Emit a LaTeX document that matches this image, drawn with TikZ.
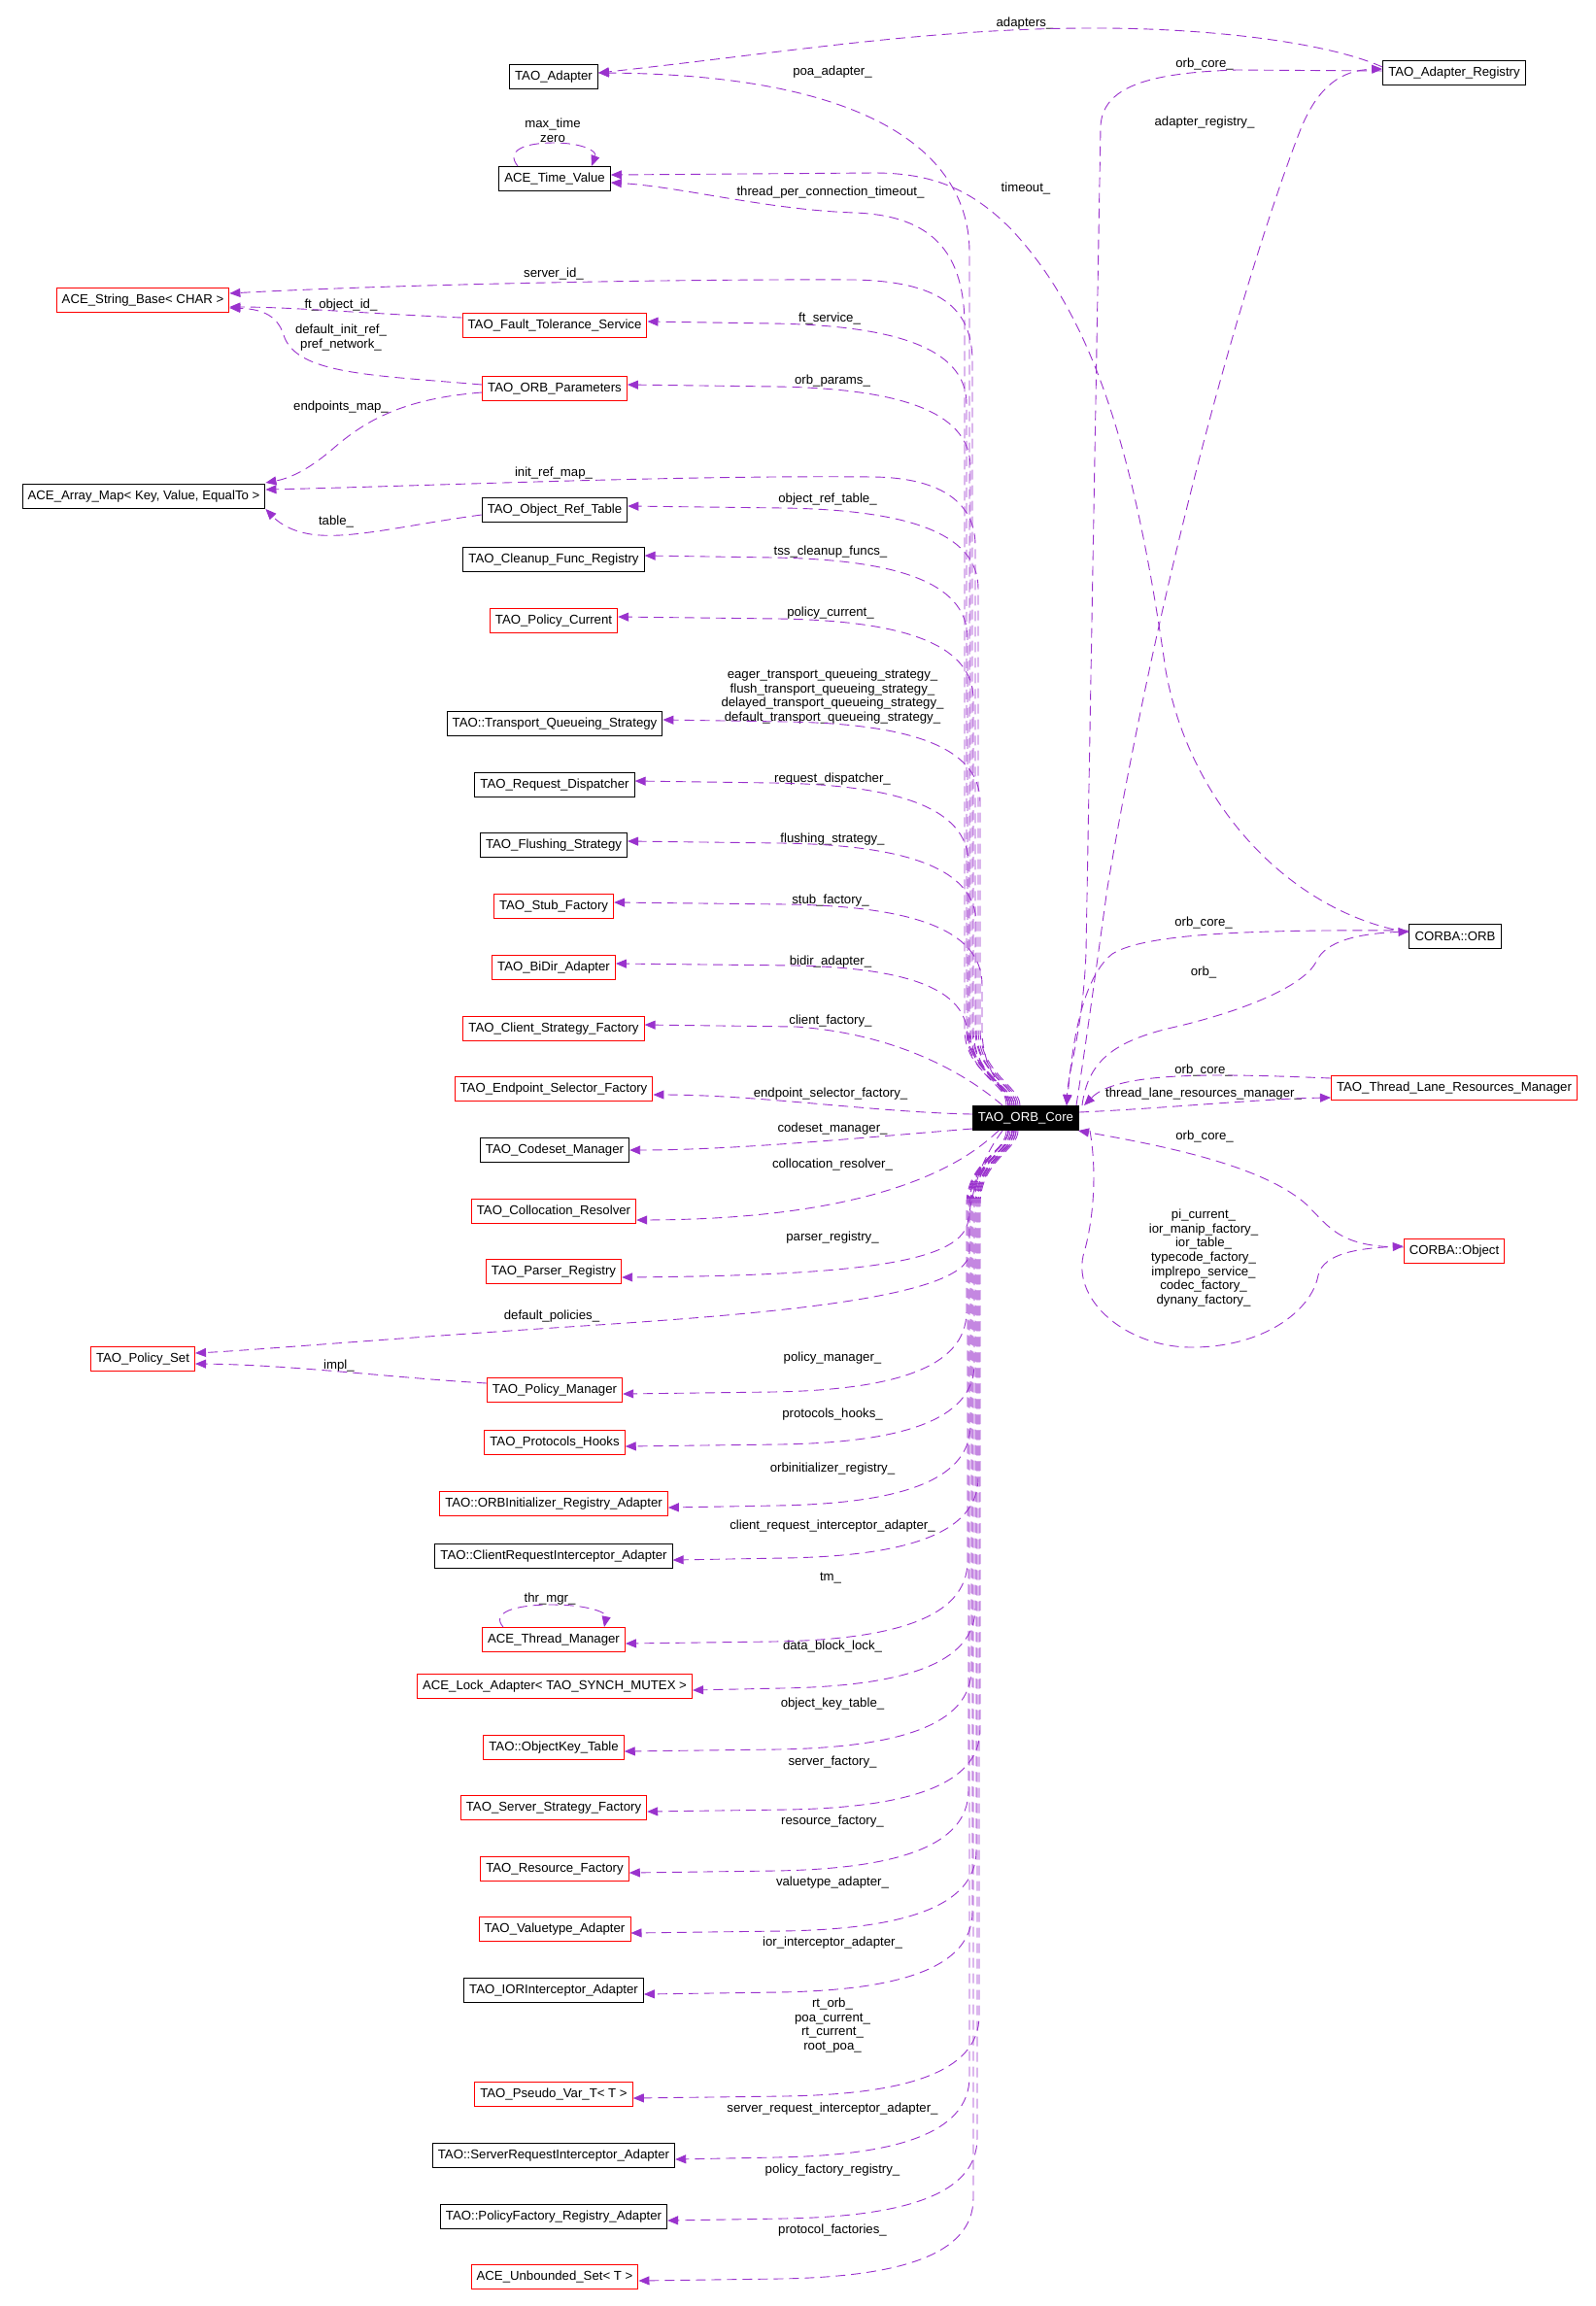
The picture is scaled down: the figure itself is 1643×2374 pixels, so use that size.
\documentclass[tikz,border=0pt]{standalone}
\usepackage{fontspec}
\setmainfont{Liberation Sans}
\usetikzlibrary{arrows.meta}
\definecolor{edgec}{HTML}{9A32CD}
\definecolor{boxred}{HTML}{FF0000}
\newcommand\UpEdge[4]{\draw[edge] ([xshift=#4]core.north) .. controls +(0,-20) and (#3,1105) .. (#3,1060) -- (#3,{#2+85}) .. controls (#3,{#2+25}) and ({#3-80},{#2+4}) .. ({#3-200},{#2+2}) -- ([yshift=2pt]#1.east);}
\newcommand\LoEdge[4]{\draw[edge] ([xshift=#4]core.south) .. controls +(0,20) and (#3,1195) .. (#3,1240) -- (#3,{#2-85}) .. controls (#3,{#2-25}) and ({#3-80},{#2-4}) .. ({#3-200},{#2-2}) -- ([yshift=-2pt]#1.east);}
\begin{document}
\begin{tikzpicture}[x=0.5pt,y=-0.5pt,
  every node/.style={font=\fontsize{6.6}{7.35}\selectfont},
  box/.style={draw=black, line width=0.5pt, fill=white, inner xsep=2.8pt, inner ysep=0pt, minimum height=12.5pt},
  rbox/.style={box, draw=boxred},
  corebox/.style={box, fill=black, text=white},
  lab/.style={align=center, inner sep=0pt},
  edge/.style={draw=edgec, line width=0.45pt, dash pattern=on 5pt off 3pt, -{Triangle[length=5.5pt,width=4.5pt]}}]
\fill[white] (0,0) rectangle (1643,2374);
\useasboundingbox (0,0) rectangle (1643,2374);

% ---------- nodes ----------
\node[box]  (adapter)  at (570,79)   {TAO\_Adapter};
\node[box]  (timeval)  at (571,184)  {ACE\_Time\_Value};
\node[rbox] (sbase)    at (147,309)  {ACE\_String\_Base< CHAR >};
\node[rbox] (fts)      at (571,335)  {TAO\_Fault\_Tolerance\_Service};
\node[rbox] (oparams)  at (571,400)  {TAO\_ORB\_Parameters};
\node[box]  (amap)     at (148,511)  {ACE\_Array\_Map< Key, Value, EqualTo >};
\node[box]  (ortable)  at (571,525)  {TAO\_Object\_Ref\_Table};
\node[box]  (cleanup)  at (570,576)  {TAO\_Cleanup\_Func\_Registry};
\node[rbox] (pcurrent) at (570,639)  {TAO\_Policy\_Current};
\node[box]  (tqs)      at (571,745)  {TAO::Transport\_Queueing\_Strategy};
\node[box]  (rdisp)    at (571,808)  {TAO\_Request\_Dispatcher};
\node[box]  (flush)    at (570,870)  {TAO\_Flushing\_Strategy};
\node[rbox] (stub)     at (570,933)  {TAO\_Stub\_Factory};
\node[rbox] (bidir)    at (570,996)  {TAO\_BiDir\_Adapter};
\node[rbox] (client)   at (570,1059) {TAO\_Client\_Strategy\_Factory};
\node[rbox] (endpoint) at (570,1121) {TAO\_Endpoint\_Selector\_Factory};
\node[box]  (codeset)  at (571,1184) {TAO\_Codeset\_Manager};
\node[rbox] (colloc)   at (570,1247) {TAO\_Collocation\_Resolver};
\node[rbox] (parser)   at (570,1309) {TAO\_Parser\_Registry};
\node[rbox] (pset)     at (147,1399) {TAO\_Policy\_Set};
\node[rbox] (pmgr)     at (571,1431) {TAO\_Policy\_Manager};
\node[rbox] (phooks)   at (571,1485) {TAO\_Protocols\_Hooks};
\node[rbox] (orbinit)  at (570,1548) {TAO::ORBInitializer\_Registry\_Adapter};
\node[box]  (creq)     at (570,1602) {TAO::ClientRequestInterceptor\_Adapter};
\node[rbox] (tmgr)     at (570,1688) {ACE\_Thread\_Manager};
\node[rbox] (lock)     at (571,1736) {ACE\_Lock\_Adapter< TAO\_SYNCH\_MUTEX >};
\node[rbox] (okey)     at (570,1799) {TAO::ObjectKey\_Table};
\node[rbox] (sstrat)   at (570,1861) {TAO\_Server\_Strategy\_Factory};
\node[rbox] (resf)     at (571,1924) {TAO\_Resource\_Factory};
\node[rbox] (vtype)    at (571,1986) {TAO\_Valuetype\_Adapter};
\node[box]  (ior)      at (570,2049) {TAO\_IORInterceptor\_Adapter};
\node[rbox] (pseudo)   at (570,2156) {TAO\_Pseudo\_Var\_T< T >};
\node[box]  (sreq)     at (570,2219) {TAO::ServerRequestInterceptor\_Adapter};
\node[box]  (pfreg)    at (570,2282) {TAO::PolicyFactory\_Registry\_Adapter};
\node[rbox] (uset)     at (571,2344) {ACE\_Unbounded\_Set< T >};
\node[corebox] (core)  at (1056,1151) {TAO\_ORB\_Core};
\node[box]  (areg)     at (1497,75)  {TAO\_Adapter\_Registry};
\node[box]  (corbaorb) at (1498,964) {CORBA::ORB};
\node[rbox] (tlrm)     at (1497,1120) {TAO\_Thread\_Lane\_Resources\_Manager};
\node[rbox] (cobj)     at (1497,1288) {CORBA::Object};

% ---------- labels ----------
\node[lab] (Ladapters) at (1055,24) {adapters\_};
\node[lab] (Lpoa) at (857,74) {poa\_adapter\_};
\node[lab] (Lregcore) at (1240,66) {orb\_core\_};
\node[lab] (Lareg) at (1240,126) {adapter\_registry\_};
\node[lab] (Lloop1) at (569,134.5) {max\_time\\zero};
\node[lab] (Ltpct) at (855,198) {thread\_per\_connection\_timeout\_};
\node[lab] (Ltimeout) at (1056,194) {timeout\_};
\node[lab] (Lserver) at (570,282) {server\_id\_};
\node[lab] (Lftobj) at (351,314) {ft\_object\_id\_};
\node[lab] (Lftserv) at (854,328) {ft\_service\_};
\node[lab] (Ldefinit) at (351,347.5) {default\_init\_ref\_\\pref\_network\_};
\node[lab] (Lorbparams) at (857,392) {orb\_params\_};
\node[lab] (Lendmap) at (351,419) {endpoints\_map\_};
\node[lab] (Linitref) at (570,487) {init\_ref\_map\_};
\node[lab] (Lortable) at (852,514) {object\_ref\_table\_};
\node[lab] (Ltable) at (346,537) {table\_};
\node[lab] (Ltss) at (855,568) {tss\_cleanup\_funcs\_};
\node[lab] (Lpcur) at (855,631) {policy\_current\_};
\node[lab] (Ltqs) at (857,717) {eager\_transport\_queueing\_strategy\_\\flush\_transport\_queueing\_strategy\_\\delayed\_transport\_queueing\_strategy\_\\default\_transport\_queueing\_strategy\_};
\node[lab] (Lrdisp) at (857,802) {request\_dispatcher\_};
\node[lab] (Lflush) at (857,864) {flushing\_strategy\_};
\node[lab] (Lstub) at (855,927) {stub\_factory\_};
\node[lab] (Lbidir) at (855,990) {bidir\_adapter\_};
\node[lab] (Lclient) at (855,1051) {client\_factory\_};
\node[lab] (Lendp) at (855,1126) {endpoint\_selector\_factory\_};
\node[lab] (Lcodeset) at (857,1162) {codeset\_manager\_};
\node[lab] (Lcolloc) at (857,1199) {collocation\_resolver\_};
\node[lab] (Lparser) at (857,1274) {parser\_registry\_};
\node[lab] (Ldefpol) at (568,1355) {default\_policies\_};
\node[lab] (Lpmgr) at (857,1398) {policy\_manager\_};
\node[lab] (Limpl) at (349,1406) {impl\_};
\node[lab] (Lphooks) at (857,1456) {protocols\_hooks\_};
\node[lab] (Lorbinit) at (857,1512) {orbinitializer\_registry\_};
\node[lab] (Lcreq) at (857,1571) {client\_request\_interceptor\_adapter\_};
\node[lab] (Ltm) at (855,1625) {tm\_};
\node[lab] (Lthr) at (566,1646) {thr\_mgr\_};
\node[lab] (Llock) at (857,1695) {data\_block\_lock\_};
\node[lab] (Lokey) at (857,1754) {object\_key\_table\_};
\node[lab] (Lsstrat) at (857,1814) {server\_factory\_};
\node[lab] (Lresf) at (857,1875) {resource\_factory\_};
\node[lab] (Lvtype) at (857,1938) {valuetype\_adapter\_};
\node[lab] (Lior) at (857,2000) {ior\_interceptor\_adapter\_};
\node[lab] (Lpseudo) at (857,2085) {rt\_orb\_\\poa\_current\_\\rt\_current\_\\root\_poa\_};
\node[lab] (Lsreq) at (857,2171) {server\_request\_interceptor\_adapter\_};
\node[lab] (Lpfreg) at (857,2234) {policy\_factory\_registry\_};
\node[lab] (Luset) at (857,2296) {protocol\_factories\_};
\node[lab] (Lorbcore1) at (1239,950) {orb\_core\_};
\node[lab] (Lorb) at (1239,1001) {orb\_};
\node[lab] (Lorbcore2) at (1239,1102) {orb\_core\_};
\node[lab] (Ltlrm) at (1239,1126) {thread\_lane\_resources\_manager\_};
\node[lab] (Lorbcore3) at (1240,1170) {orb\_core\_};
\node[lab] (Lobj) at (1239,1295) {pi\_current\_\\ior\_manip\_factory\_\\ior\_table\_\\typecode\_factory\_\\implrepo\_service\_\\codec\_factory\_\\dynany\_factory\_};

% ---------- upper-left edges from TAO_ORB_Core ----------
\draw[edge] ([xshift=-6pt]core.north) .. controls +(0,-20) and (998,1105) .. (998,1060) -- (998,260) .. controls (998,160) and (900,77) .. ([yshift=2pt]adapter.east);
\draw[edge] ([xshift=-7pt]core.north) .. controls +(0,-20) and (993,1105) .. (993,1060) -- (993,330) .. controls (991,260) and (960,222) .. (880,219) .. controls (790,216) and (700,192) .. ([yshift=-2pt]timeval.east);
\draw[edge] ([xshift=-8pt]core.north) .. controls +(0,-20) and (1001,1105) .. (1001,1060) -- (1001,370) .. controls (1000,315) and (965,290) .. (880,288) .. controls (700,287) and (400,293) .. ([yshift=3.5pt]sbase.east);
\draw[edge] ([xshift=-5pt]core.north) .. controls +(0,-20) and (1004,1105) .. (1004,1060) -- (1004,560) .. controls (1003,515) and (965,492) .. (900,491) .. controls (700,489) and (450,500) .. ([yshift=3.5pt]amap.east);
\UpEdge{fts}{331}{995}{-9pt}
\UpEdge{oparams}{396}{999}{-8pt}
\UpEdge{ortable}{521}{1007}{-4pt}
\UpEdge{cleanup}{572}{996}{-6pt}
\UpEdge{pcurrent}{635}{1002}{-9pt}
\UpEdge{tqs}{741}{1009}{-3pt}
\UpEdge{rdisp}{804}{997}{-7pt}
\UpEdge{flush}{866}{1005}{-5pt}
\UpEdge{stub}{929}{1011}{-10pt}
\draw[edge] ([xshift=-9pt]core.north) .. controls +(0,-25) and (996,1095) .. (996,1065) .. controls (994,1020) and (940,997) .. (820,994) -- ([yshift=2pt]bidir.east);
\draw[edge] ([xshift=-12pt]core.north) .. controls (1000,1110) and (930,1065) .. (820,1057) -- ([yshift=2pt]client.east);
\draw[edge] ([yshift=2pt]core.west) .. controls (900,1145) and (780,1127) .. ([yshift=-3pt]endpoint.east);
\draw[edge] ([yshift=-5.5pt]core.west) .. controls (900,1170) and (760,1184) .. (codeset.east);

% ---------- lower-left edges ----------
\draw[edge] ([xshift=-14pt]core.south) .. controls (1005,1185) and (930,1255) .. ([yshift=-4.5pt]colloc.east);
\draw[edge] ([xshift=-12pt]core.south) .. controls (1005,1200) and (1000,1235) .. (996,1260) .. controls (985,1300) and (880,1313) .. ([yshift=-3pt]parser.east);
\draw[edge] ([xshift=-10pt]core.south) .. controls +(0,20) and (998,1200) .. (998,1240) -- (998,1290) .. controls (995,1335) and (800,1352) .. (600,1365) .. controls (400,1378) and (260,1390) .. ([yshift=3pt]pset.east);
\LoEdge{pmgr}{1435}{995}{-9pt}
\LoEdge{phooks}{1489}{1003}{-8pt}
\LoEdge{orbinit}{1552}{999}{-7pt}
\LoEdge{creq}{1606}{1007}{-5pt}
\LoEdge{tmgr}{1692}{996}{-9pt}
\LoEdge{lock}{1740}{1004}{-6pt}
\LoEdge{okey}{1803}{1000}{-7pt}
\LoEdge{sstrat}{1865}{1009}{-4pt}
\LoEdge{resf}{1928}{997}{-9pt}
\LoEdge{vtype}{1990}{1005}{-6pt}
\LoEdge{ior}{2053}{1001}{-7pt}
\LoEdge{pseudo}{2160}{1008}{-5pt}
\LoEdge{sreq}{2223}{998}{-9pt}
\LoEdge{pfreg}{2286}{1006}{-6pt}
\LoEdge{uset}{2348}{1002}{-7pt}

% ---------- edges among left classes ----------
\draw[edge] ([xshift=-19pt]timeval.north) .. controls (520,155) and (540,147) .. (570,147) .. controls (598,147) and (615,155) .. ([xshift=19pt]timeval.north);
\draw[edge] ([xshift=-26pt]tmgr.north) .. controls (505,1660) and (530,1652) .. (568,1652) .. controls (605,1652) and (625,1660) .. ([xshift=26pt]tmgr.north);
\draw[edge] ([yshift=4pt]fts.west) .. controls (380,323) and (300,316) .. ([yshift=-3.5pt]sbase.east);
\draw[edge] ([yshift=2pt]oparams.west) .. controls (380,386) and (305,385) .. (292,345) .. controls (285,322) and (265,318) .. ([yshift=-4pt]sbase.east);
\draw[edge] ([yshift=-2pt]oparams.west) .. controls (420,410) and (380,430) .. (345,460) .. controls (320,482) and (300,492) .. ([yshift=7pt]amap.east);
\draw[edge] ([yshift=-2.5pt]ortable.west) .. controls (420,540) and (360,556) .. (320,550) .. controls (295,546) and (284,535) .. (amap.south east);
\draw[edge] ([yshift=3.5pt]pmgr.west) .. controls (400,1418) and (300,1405) .. ([yshift=-2.5pt]pset.east);

% ---------- right side ----------
\draw[edge] ([yshift=3pt]areg.west) .. controls (1370,45) and (1250,28) .. (1115,29) .. controls (950,30) and (800,55) .. ([yshift=2pt]adapter.east);
\draw[edge] ([yshift=1pt]areg.west) -- (1273,72) .. controls (1180,75) and (1135,90) .. (1133,130) -- (1118,980) .. controls (1115,1060) and (1100,1100) .. ([xshift=21pt]core.north);
\draw[edge] ([xshift=26pt]core.north) .. controls (1120,1060) and (1128,1000) .. (1140,914) .. controls (1200,560) and (1290,260) .. (1337,138) .. controls (1355,90) and (1380,72) .. ([yshift=2pt]areg.west);
\draw[edge] ([yshift=2pt]corbaorb.west) .. controls (1330,940) and (1225,830) .. (1200,690) .. controls (1170,480) and (1130,330) .. (1040,235) .. controls (1000,195) and (960,178) .. (900,178) -- ([yshift=2pt]timeval.east);
\draw[edge] ([yshift=3pt]corbaorb.west) .. controls (1300,957) and (1180,960) .. (1145,982) .. controls (1110,1010) and (1103,1090) .. ([xshift=21pt]core.north);
\draw[edge] ([xshift=29pt]core.north) .. controls (1120,1090) and (1150,1070) .. (1215,1056) .. controls (1300,1035) and (1345,1010) .. (1355,990) .. controls (1365,968) and (1400,961) .. ([yshift=2.5pt]corbaorb.west);
\draw[edge] ([yshift=5pt]tlrm.west) .. controls (1250,1105) and (1150,1103) .. ([xshift=30pt]core.north);
\draw[edge] ([yshift=3pt]core.east) .. controls (1200,1141) and (1300,1131) .. ([yshift=-5pt]tlrm.west);
\draw[edge] ([yshift=2pt]cobj.west) .. controls (1380,1284) and (1370,1265) .. (1345,1240) .. controls (1300,1200) and (1200,1180) .. ([xshift=27pt]core.south);
\draw[edge] ([xshift=33pt]core.south) .. controls (1130,1210) and (1125,1260) .. (1115,1293) .. controls (1105,1340) and (1160,1387) .. (1227,1387) .. controls (1300,1387) and (1350,1350) .. (1357,1313) .. controls (1362,1290) and (1400,1285) .. ([yshift=2.5pt]cobj.west);
\end{tikzpicture}
\end{document}
